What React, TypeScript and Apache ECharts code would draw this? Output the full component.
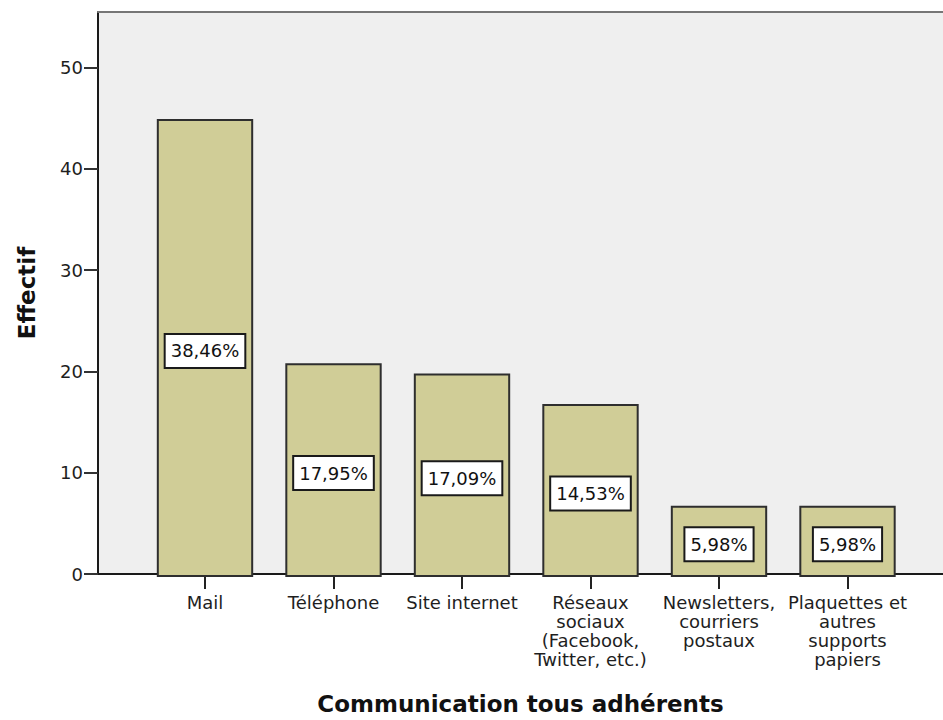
import React, { useEffect, useRef } from 'react';
import * as echarts from 'echarts';

const categories = [
  'Mail',
  'Téléphone',
  'Site internet',
  'Réseaux\nsociaux\n(Facebook,\nTwitter, etc.)',
  'Newsletters,\ncourriers\npostaux',
  'Plaquettes et\nautres\nsupports\npapiers',
];
const counts = [45, 21, 20, 17, 7, 7];
const percentLabels = ['38,46%', '17,95%', '17,09%', '14,53%', '5,98%', '5,98%'];
const yTicks = [0, 10, 20, 30, 40, 50];
const yMax = 55.5;
const xTitle = 'Communication tous adhérents';
const yTitle = 'Effectif';

const FONT = 'DejaVu Sans';

export default function App() {
  const ref = useRef<HTMLDivElement>(null);
  useEffect(() => {
    if (!ref.current) return;
    const chart = echarts.init(ref.current, undefined, { renderer: 'svg' });
    chart.setOption({
      animation: false,
      backgroundColor: '#ffffff',
      grid: [
        { left: 98, right: 0, top: 12, bottom: 143, show: true, backgroundColor: '#efefef', borderWidth: 0 },
        { left: 140.75, right: 31.25, top: 12, bottom: 143 },
      ],
      xAxis: [
        {
          gridIndex: 0,
          type: 'value',
          min: 0,
          max: 1,
          axisLine: { show: true, onZero: false, lineStyle: { color: '#1a1a1a', width: 2 } },
          axisTick: { show: false },
          axisLabel: { show: false },
          splitLine: { show: false },
          name: xTitle,
          nameLocation: 'middle',
          nameGap: 118,
          nameTextStyle: { fontFamily: FONT, fontSize: 23, fontWeight: 'bold', color: '#111' },
        },
        {
          gridIndex: 1,
          type: 'category',
          data: categories,
          axisLine: { show: false },
          axisTick: { show: true, alignWithLabel: true, length: 12, lineStyle: { color: '#222', width: 2 } },
          axisLabel: {
            interval: 0,
            margin: 16,
            fontFamily: FONT,
            fontSize: 18,
            lineHeight: 19,
            color: '#1e1e1e',
            align: 'center',
          },
          splitLine: { show: false },
        },
        {
          gridIndex: 0,
          type: 'value',
          position: 'top',
          min: 0,
          max: 1,
          axisLine: { show: true, onZero: false, lineStyle: { color: '#767676', width: 2 } },
          axisTick: { show: false },
          axisLabel: { show: false },
          splitLine: { show: false },
        },
      ],
      yAxis: [
        {
          gridIndex: 0,
          type: 'value',
          min: 0,
          max: yMax,
          axisLine: { show: true, onZero: false, lineStyle: { color: '#1a1a1a', width: 2 } },
          axisTick: { show: true, length: 14, customValues: yTicks, lineStyle: { color: '#333', width: 2 } },
          axisLabel: { customValues: yTicks, margin: 15, fontFamily: FONT, fontSize: 18, color: '#1e1e1e' },
          splitLine: { show: false },
          name: yTitle,
          nameLocation: 'middle',
          nameGap: 60,
          nameTextStyle: { fontFamily: FONT, fontSize: 23, fontWeight: 'bold', color: '#111' },
        },
        { gridIndex: 1, type: 'value', min: 0, max: yMax, show: false },
      ],
      series: [
        {
          type: 'bar',
          xAxisIndex: 1,
          yAxisIndex: 1,
          data: counts,
          barWidth: '75%',
          itemStyle: { color: '#d0cd97', borderColor: '#2e2e2e', borderWidth: 2 },
          label: {
            show: true,
            position: 'inside',
            offset: [0, 3],
            formatter: (p: any) => percentLabels[p.dataIndex],
            fontFamily: FONT,
            fontSize: 18,
            lineHeight: 20,
            color: '#111',
            backgroundColor: '#ffffff',
            borderColor: '#1a1a1a',
            borderWidth: 2,
            padding: [6, 5, 6, 5],
          },
        },
      ],
    });
    return () => chart.dispose();
  }, []);
  return (
    <div
      ref={ref}
      style={{ position: 'fixed', left: 0, top: 0, width: 943, height: 720, background: '#fff' }}
    />
  );
}
